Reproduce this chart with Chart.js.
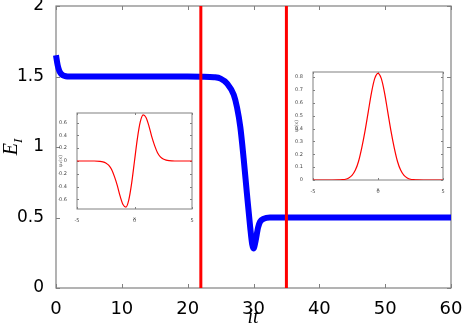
<!DOCTYPE html>
<html>
<head>
  <title>E_I vs it</title>
  <script src="https://cdn.jsdelivr.net/npm/chart.js"></script>
  <style>
    body { margin: 0; background: #fff; }
    .wrap { position: relative; width: 463px; height: 327px; }
    .wrap canvas { position: absolute; }
    #mainChart { left: 0; top: 0; }
    #inset1 { left: 58px; top: 110px; }
    #inset0 { left: 294px; top: 69px; }
    .ylab { position: absolute; left: 12px; top: 147px; transform: translate(-50%, -50%) rotate(-90deg); font: italic 20px "Liberation Serif", serif; white-space: nowrap; }
    .ylab sub { font-size: 13px; }
    .xlab { position: absolute; left: 253px; top: 316px; transform: translate(-50%, -50%); font: italic 20px "Liberation Serif", serif; }
  </style>
</head>
<body>
  <div class="wrap">
    <canvas id="mainChart" width="463" height="327"></canvas>
    <canvas id="inset1" width="138" height="112"></canvas>
    <canvas id="inset0" width="153" height="124"></canvas>
    <div class="ylab">E<sub>I</sub></div>
    <div class="xlab">it</div>
  </div>

  <script>
    // main curve: energy per iteration
    const itValues = [0, 0.25, 0.5, 0.75, 1, 1.5, 2, 5, 10, 15, 20, 22, 24, 25, 26, 27, 27.5, 28, 28.5, 29, 29.5, 29.8, 30, 30.3, 30.7, 31, 31.5, 32.5, 35, 40, 50, 60];
    const energyValues = [1.65, 1.58, 1.54, 1.52, 1.51, 1.502, 1.5, 1.5, 1.5, 1.5, 1.5, 1.499, 1.495, 1.485, 1.45, 1.37, 1.28, 1.14, 0.92, 0.67, 0.43, 0.31, 0.28, 0.33, 0.43, 0.47, 0.49, 0.5, 0.5, 0.5, 0.5, 0.5];
    const markerIts = [22, 35];

    // insets: wavefunctions
    const xGrid = [-5, -4, -3.5, -3, -2.75, -2.5, -2.25, -2, -1.75, -1.5, -1.25, -1, -0.75, -0.5, -0.25, 0, 0.25, 0.5, 0.75, 1, 1.25, 1.5, 1.75, 2, 2.25, 2.5, 2.75, 3, 3.5, 4, 5];
    const psi1 = [0, 0, 0, -0.005, -0.013, -0.03, -0.065, -0.13, -0.24, -0.38, -0.55, -0.68, -0.72, -0.61, -0.35, 0, 0.35, 0.61, 0.72, 0.68, 0.55, 0.38, 0.24, 0.13, 0.065, 0.03, 0.013, 0.005, 0, 0, 0];
    const psi0 = [0, 0, 0, 0.001, 0.003, 0.006, 0.016, 0.036, 0.075, 0.144, 0.25, 0.38, 0.53, 0.68, 0.79, 0.83, 0.79, 0.68, 0.53, 0.38, 0.25, 0.144, 0.075, 0.036, 0.016, 0.006, 0.003, 0.001, 0, 0, 0];

    const pts = (xs, ys) => xs.map((x, i) => ({ x, y: ys[i] }));
    const plain = v => String(+v.toFixed(2));

    // axes box with inward ticks, like the matlab look
    const boxTicks = {
      id: 'boxTicks',
      beforeDatasetsDraw(chart, args, opts) {
        const { ctx, chartArea: a, scales: { x, y } } = chart;
        const len = opts.len;
        ctx.save();
        ctx.strokeStyle = opts.color;
        ctx.lineWidth = opts.width;
        ctx.strokeRect(a.left, a.top, a.right - a.left, a.bottom - a.top);
        ctx.lineWidth = 1;
        ctx.beginPath();
        x.ticks.forEach(t => {
          const px = Math.round(x.getPixelForValue(t.value)) + 0.5;
          ctx.moveTo(px, a.bottom); ctx.lineTo(px, a.bottom - len);
          ctx.moveTo(px, a.top); ctx.lineTo(px, a.top + len);
        });
        y.ticks.forEach(t => {
          const py = Math.round(y.getPixelForValue(t.value)) + 0.5;
          ctx.moveTo(a.left, py); ctx.lineTo(a.left + len, py);
          ctx.moveTo(a.right, py); ctx.lineTo(a.right - len, py);
        });
        ctx.stroke();
        ctx.restore();
      }
    };

    const noPad = s => { s.paddingTop = 0; s.paddingBottom = 0; s.paddingLeft = 0; s.paddingRight = 0; };

    new Chart(document.getElementById('mainChart'), {
      type: 'line',
      plugins: [boxTicks],
      data: {
        datasets: [
          ...markerIts.map(m => ({ data: [{ x: m, y: 0 }, { x: m, y: 2 }], borderColor: '#ff0000', borderWidth: 3, pointRadius: 0, order: 0 })),
          { data: pts(itValues, energyValues), borderColor: '#0000ff', borderWidth: 6, pointRadius: 0, cubicInterpolationMode: 'monotone', clip: false, order: 1 }
        ]
      },
      options: {
        responsive: false,
        animation: false,
        layout: { padding: { top: 6, right: 12, left: 0, bottom: 0 } },
        plugins: { legend: { display: false }, tooltip: { enabled: false }, boxTicks: { len: 4, color: '#808080', width: 1.2 } },
        scales: {
          x: {
            type: 'linear', min: 0, max: 60,
            grid: { display: false }, border: { display: false },
            ticks: { stepSize: 10, color: '#000', padding: 3, font: { family: 'DejaVu Sans', size: 18 }, maxRotation: 0, callback: plain },
            afterFit: s => { s.height = 39; noPad(s); }
          },
          y: {
            min: 0, max: 2,
            grid: { display: false }, border: { display: false },
            ticks: { stepSize: 0.5, color: '#000', padding: 4, font: { family: 'DejaVu Sans', size: 17 }, callback: plain },
            afterFit: s => { s.width = 56; noPad(s); }
          }
        }
      }
    });

    function inset(id, ys, yMin, yMax, yStep, yTitle) {
      new Chart(document.getElementById(id), {
        type: 'line',
        plugins: [boxTicks],
        data: { datasets: [{ data: pts(xGrid, ys), borderColor: '#ff0000', borderWidth: 1.2, pointRadius: 0, cubicInterpolationMode: 'monotone' }] },
        options: {
          responsive: false,
          animation: false,
          layout: { padding: { top: 3, right: 4, left: 0, bottom: 0 } },
          plugins: { legend: { display: false }, tooltip: { enabled: false }, boxTicks: { len: 2, color: '#808080', width: 1 } },
          scales: {
            x: {
              type: 'linear', min: -5, max: 5,
              grid: { display: false }, border: { display: false },
              ticks: { stepSize: 5, color: '#444', padding: 1, font: { family: 'DejaVu Sans', size: 5 }, maxRotation: 0 },
              title: { display: true, text: 'x', color: '#666', padding: 0, font: { family: 'DejaVu Sans', size: 5 } },
              afterFit: s => { s.height = 13; noPad(s); }
            },
            y: {
              min: yMin, max: yMax,
              grid: { display: false }, border: { display: false },
              ticks: { stepSize: yStep, includeBounds: false, color: '#444', padding: 2, font: { family: 'DejaVu Sans', size: 5 }, callback: plain },
              title: { display: true, text: yTitle, color: '#666', padding: 0, font: { family: 'DejaVu Sans', size: 5 } },
              afterFit: s => { s.width = 19; noPad(s); }
            }
          }
        }
      });
    }

    inset('inset1', psi1, -0.75, 0.75, 0.2, 'ψ₁(x)');
    inset('inset0', psi0, 0, 0.84, 0.1, 'ψ₀(x)');
  </script>
</body>
</html>
